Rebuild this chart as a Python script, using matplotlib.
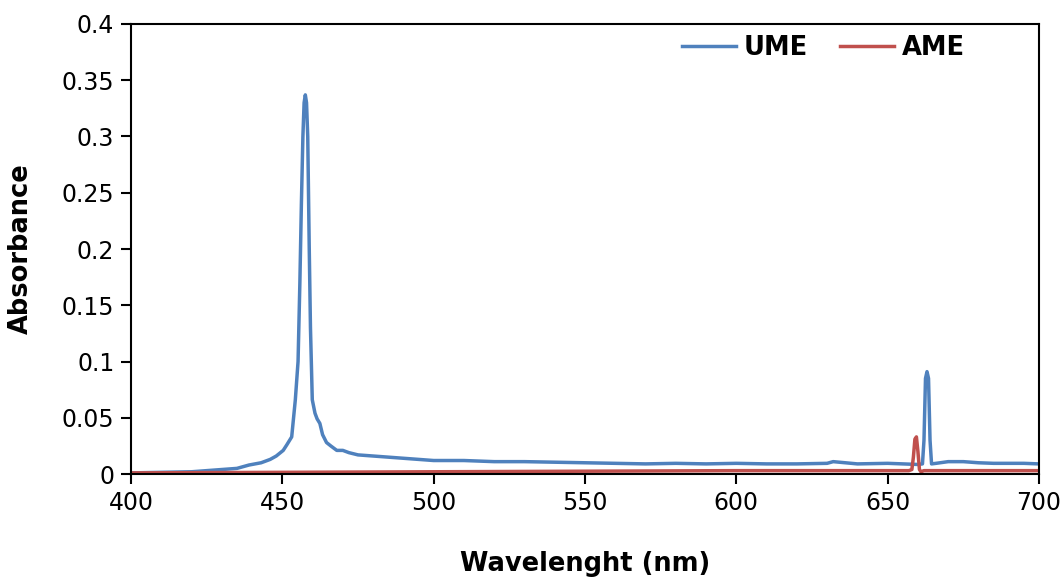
import matplotlib.pyplot as plt

# UME spectrum
ume_wl = [400, 410, 420, 430, 435, 439, 443, 446, 448, 450.3, 451.5, 453.1, 454.3, 455.2,
          455.8, 456.3, 456.8, 457.2, 457.6, 458.0, 458.4, 458.9, 459.3, 459.9, 460.8,
          461.5, 462.4, 463.3, 464.6, 466, 468, 470, 472, 475, 480, 485, 490, 495, 500,
          510, 520, 530, 540, 550, 560, 570, 580, 590, 600, 610, 620, 630, 632, 640,
          650, 655, 660, 661.5, 662, 662.5, 663, 663.5, 664, 664.5, 666, 670, 675, 680,
          685, 690, 695, 700]
ume_abs = [0.001, 0.0015, 0.002, 0.004, 0.005, 0.008, 0.010, 0.013, 0.016, 0.021, 0.026,
           0.033, 0.066, 0.10, 0.17, 0.24, 0.30, 0.33, 0.337, 0.33, 0.30, 0.20, 0.13,
           0.066, 0.054, 0.049, 0.045, 0.035, 0.028, 0.025, 0.021, 0.021, 0.019, 0.017,
           0.016, 0.015, 0.014, 0.013, 0.012, 0.012, 0.011, 0.011, 0.0105, 0.010,
           0.0095, 0.009, 0.0095, 0.009, 0.0095, 0.009, 0.009, 0.0095, 0.011, 0.009,
           0.0095, 0.009, 0.0085, 0.009, 0.03, 0.085, 0.091, 0.085, 0.03, 0.009, 0.0095,
           0.011, 0.011, 0.010, 0.0095, 0.0095, 0.0095, 0.009]

# AME spectrum
ame_wl = [400, 450, 500, 550, 600, 650, 657, 658, 658.5, 659, 659.5, 660, 660.5, 661,
          662, 670, 700]
ame_abs = [0.001, 0.0015, 0.002, 0.0025, 0.003, 0.003, 0.003, 0.004, 0.015, 0.031,
           0.033, 0.02, 0.004, 0.002, 0.003, 0.003, 0.003]

fig = plt.figure(figsize=(10.64, 5.78), dpi=100)
ax = fig.add_axes([0.1231, 0.1799, 0.8534, 0.7786])

ax.plot(ume_wl, ume_abs, color='#4F81BD', linewidth=2.5, label='UME')
ax.plot(ame_wl, ame_abs, color='#C0504D', linewidth=2.5, label='AME')

ax.set_xlim(400, 700)
ax.set_ylim(0, 0.4)
ax.set_xticks([400, 450, 500, 550, 600, 650, 700])
ax.set_yticks([0, 0.05, 0.1, 0.15, 0.2, 0.25, 0.3, 0.35, 0.4])
ax.set_yticklabels(['0', '0.05', '0.1', '0.15', '0.2', '0.25', '0.3', '0.35', '0.4'])
ax.tick_params(direction='out', length=7, width=1.5, labelsize=17, pad=5)
for sp in ax.spines.values():
    sp.set_linewidth(1.5)

ax.set_xlabel('Wavelenght (nm)', fontsize=18.5, fontweight='bold')
ax.set_ylabel('Absorbance', fontsize=18.5, fontweight='bold')
ax.xaxis.set_label_coords(0.5, -0.172)
ax.yaxis.set_label_coords(-0.107, 0.5)

leg = ax.legend(loc='upper right', ncol=2, frameon=False, fontsize=18.5,
                handlelength=2.1, handletextpad=0.3, columnspacing=1.25,
                borderaxespad=0, bbox_to_anchor=(0.930, 0.998))
for t in leg.get_texts():
    t.set_fontweight('bold')

fig.savefig('out.png', dpi=100)
